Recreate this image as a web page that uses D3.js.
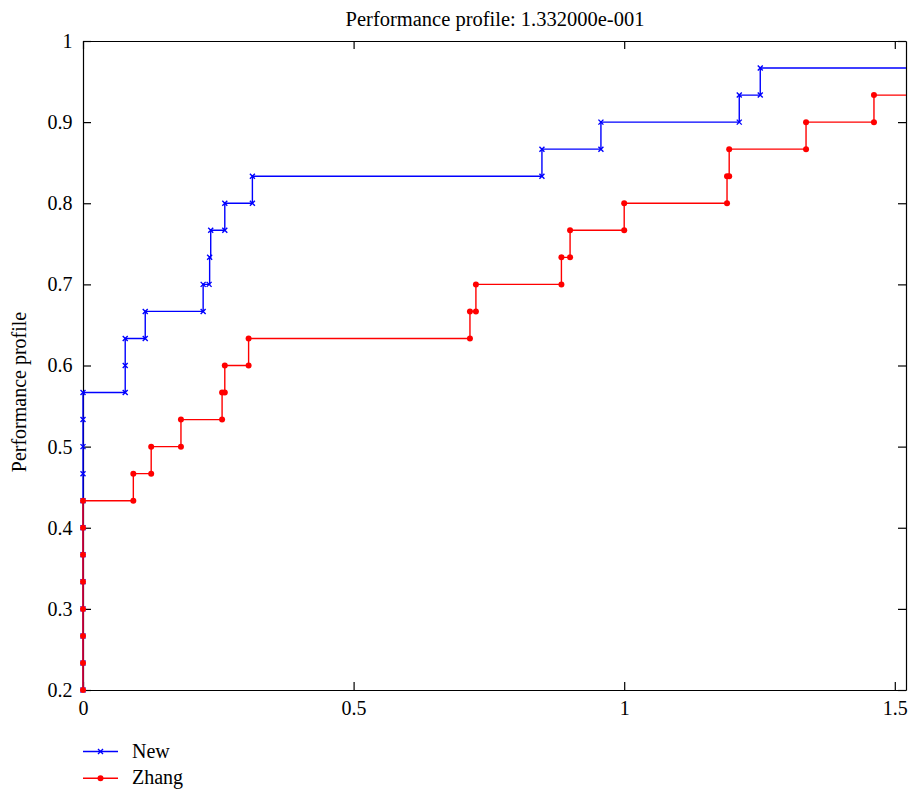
<!DOCTYPE html>
<html>
<head>
<meta charset="utf-8">
<title>Performance profile</title>
<script src="https://d3js.org/d3.v7.min.js"></script>
<style>
  body { margin: 0; background: #fff; }
  svg text { font-family: "Liberation Serif", "Times New Roman", serif; fill: #000; }
</style>
</head>
<body>
<svg id="chart"></svg>
<script>
// data (x = log2 ratio, y = fraction of problems)
var xMax = 1.5207;

var newX = [0, 0, 0, 0, 0, 0, 0, 0, 0, 0, 0, 0,
            0.078, 0.078, 0.078, 0.115, 0.115, 0.222, 0.222,
            0.233, 0.234, 0.236, 0.262, 0.262, 0.313, 0.313,
            0.848, 0.848, 0.957, 0.957, 1.2126, 1.2126, 1.2514, 1.2514];
var newY = [0.2, 0.2333, 0.2667, 0.3, 0.3333, 0.3667, 0.4, 0.4333, 0.4667, 0.5, 0.5333, 0.5667,
            0.5667, 0.6, 0.6333, 0.6333, 0.6667, 0.6667, 0.7,
            0.7, 0.7333, 0.7667, 0.7667, 0.8, 0.8, 0.8333,
            0.8333, 0.8667, 0.8667, 0.9, 0.9, 0.9333, 0.9333, 0.9667];

var zhangX = [0, 0, 0, 0, 0, 0, 0, 0,
              0.093, 0.093, 0.126, 0.126, 0.181, 0.181, 0.257, 0.257, 0.262, 0.262,
              0.306, 0.306, 0.715, 0.715, 0.726, 0.726, 0.884, 0.884, 0.9, 0.9,
              1.0, 1.0, 1.19, 1.19, 1.194, 1.194, 1.336, 1.336, 1.4615, 1.4615];
var zhangY = [0.2, 0.2333, 0.2667, 0.3, 0.3333, 0.3667, 0.4, 0.4333,
              0.4333, 0.4667, 0.4667, 0.5, 0.5, 0.5333, 0.5333, 0.5667, 0.5667, 0.6,
              0.6, 0.6333, 0.6333, 0.6667, 0.6667, 0.7, 0.7, 0.7333, 0.7333, 0.7667,
              0.7667, 0.8, 0.8, 0.8333, 0.8333, 0.8667, 0.8667, 0.9, 0.9, 0.9333];

var xTicks = [0, 0.5, 1, 1.5];
var yTicks = [0.2, 0.3, 0.4, 0.5, 0.6, 0.7, 0.8, 0.9, 1];

var titleText = "Performance profile: 1.332000e-001";
var yLabel = "Performance profile";
var seriesNames = ["New", "Zhang"];

var W = 910, H = 791;
var margin = {top: 41, right: 4, bottom: 101, left: 83},
    width = W - margin.left - margin.right,
    height = H - margin.top - margin.bottom;

var svg = d3.select("#chart").attr("width", W).attr("height", H);
var g = svg.append("g").attr("transform", "translate(" + margin.left + "," + margin.top + ")");

var x = d3.scaleLinear().domain([0, xMax]).range([0, width]);
var y = d3.scaleLinear().domain([0.2, 1]).range([height, 0]);

function fmt(d) { return d3.format("")(d); }

// axes, ticks pointing inwards on all four sides
g.append("g")
  .attr("transform", "translate(0," + height + ")")
  .call(d3.axisBottom(x).tickValues(xTicks).tickFormat(fmt).tickSizeInner(-8).tickSizeOuter(0).tickPadding(11));
g.append("g")
  .call(d3.axisTop(x).tickValues(xTicks).tickFormat("").tickSizeInner(-8).tickSizeOuter(0));
g.append("g")
  .call(d3.axisLeft(y).tickValues(yTicks).tickFormat(fmt).tickSizeInner(-8).tickSizeOuter(0).tickPadding(10.5));
g.append("g")
  .attr("transform", "translate(" + width + ",0)")
  .call(d3.axisRight(y).tickValues(yTicks).tickFormat("").tickSizeInner(-8).tickSizeOuter(0));

g.selectAll(".tick text").style("font-size", "20px");
g.selectAll(".domain, .tick line").attr("stroke", "#000").attr("stroke-width", 1.2);

var line = d3.line()
  .x(function(d) { return x(d[0]); })
  .y(function(d) { return y(d[1]); })
  .curve(d3.curveStepAfter);

var series = [
  {name: seriesNames[0], xs: newX, ys: newY, color: "#0000ff", marker: "cross"},
  {name: seriesNames[1], xs: zhangX, ys: zhangY, color: "#ff0000", marker: "dot"}
];

function drawMarker(sel, kind, color) {
  if (kind === "cross") {
    sel.append("path")
      .attr("d", "M-2.5,-2.5L2.5,2.5M-2.5,2.5L2.5,-2.5")
      .attr("stroke", color).attr("stroke-width", 1.4).attr("fill", "none");
  } else {
    sel.append("circle").attr("r", 3).attr("fill", color);
  }
}

series.forEach(function(s) {
  var pts = s.xs.map(function(v, i) { return [v, s.ys[i]]; });
  var full = pts.concat([[xMax, s.ys[s.ys.length - 1]]]);
  g.append("path")
    .datum(full)
    .attr("d", line)
    .attr("fill", "none")
    .attr("stroke", s.color)
    .attr("stroke-width", 1.4);
  g.selectAll(".m-" + s.marker)
    .data(pts)
    .enter().append("g")
    .attr("class", "m-" + s.marker)
    .attr("transform", function(d) { return "translate(" + x(d[0]) + "," + y(d[1]) + ")"; })
    .each(function() { drawMarker(d3.select(this), s.marker, s.color); });
});

// title and y label
svg.append("text")
  .attr("x", 495).attr("y", 26)
  .attr("text-anchor", "middle").style("font-size", "20.5px")
  .text(titleText);
svg.append("text")
  .attr("transform", "translate(26,392) rotate(-90)")
  .attr("text-anchor", "middle").style("font-size", "20px")
  .text(yLabel);

// legend
var legend = svg.append("g").attr("transform", "translate(83,751.5)");
series.forEach(function(s, i) {
  var row = legend.append("g").attr("transform", "translate(0," + (i * 26.7) + ")");
  row.append("line").attr("x1", 0).attr("x2", 35).attr("y1", 0).attr("y2", 0)
    .attr("stroke", s.color).attr("stroke-width", 1.4);
  drawMarker(row.append("g").attr("transform", "translate(17.5,0)"), s.marker, s.color);
  row.append("text").attr("x", 49).attr("y", 6).style("font-size", "20px").text(s.name);
});
</script>
</body>
</html>
